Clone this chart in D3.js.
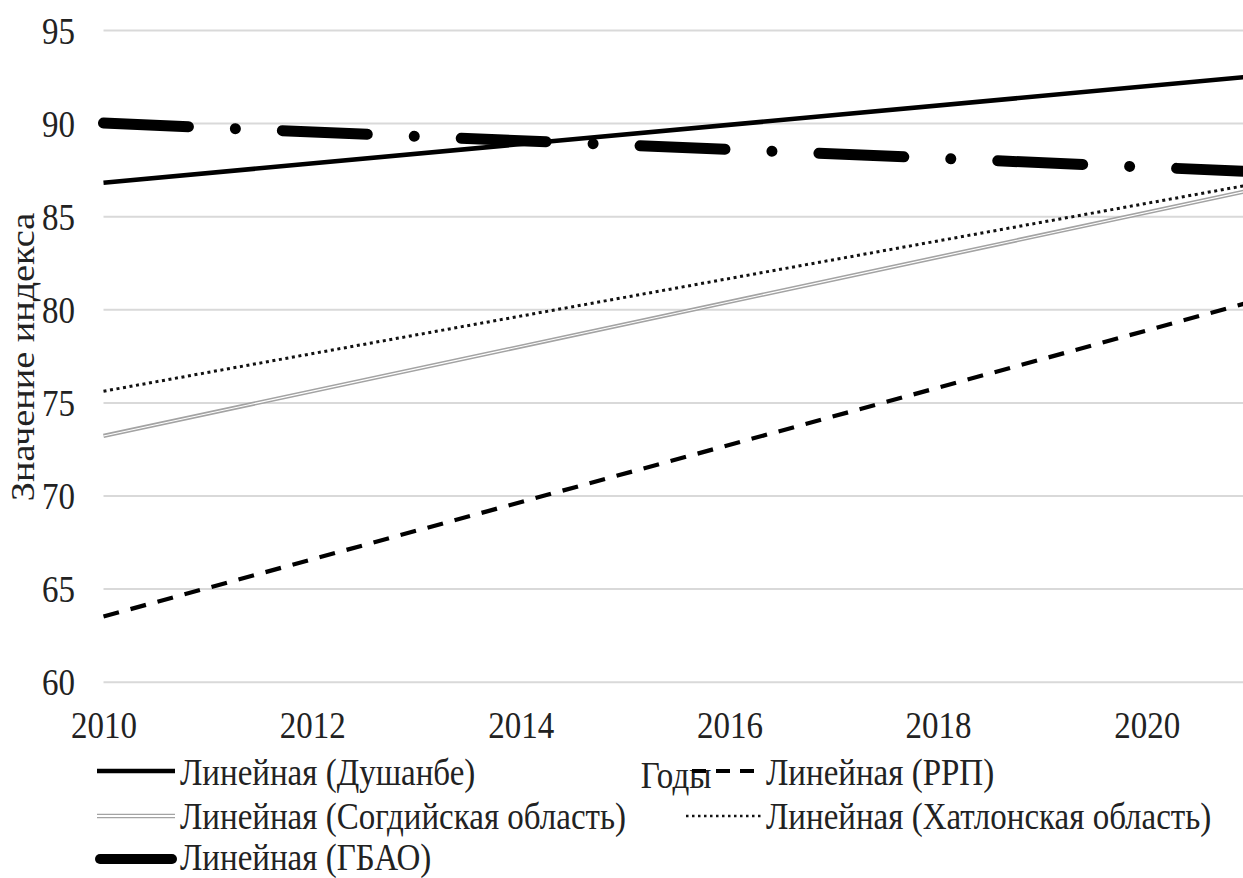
<!DOCTYPE html>
<html>
<head>
<meta charset="utf-8">
<script src="https://cdn.jsdelivr.net/npm/d3@7"></script>
<style>
  html, body { margin: 0; padding: 0; background: #fff; overflow: hidden; }
  svg { display: block; }
  text { font-family: "Liberation Serif", "Times New Roman", serif; fill: #222; }
</style>
</head>
<body>
<svg id="chart" width="1243" height="878"></svg>
<script>
// ---- data (trend lines: values at the start and end year) ----
const years = [2010, 2021];
const dushanbe = [86.8, 92.5];
const sogd     = [73.2, 86.4];
const gbao     = [90.0, 87.4];
const rrp      = [63.5, 80.4];
const khatlon  = [75.6, 86.7];
const seriesNames = [
  "Линейная (Душанбе)",
  "Линейная (РРП)",
  "Линейная (Согдийская область)",
  "Линейная (Хатлонская область)",
  "Линейная (ГБАО)"
];
const yTicks = [60, 65, 70, 75, 80, 85, 90, 95];
const xTicks = [2010, 2012, 2014, 2016, 2018, 2020];
const yTitle = "Значение индекса";
const xTitle = "Годы";

// ---- layout ----
const svg = d3.select("#chart");
const x = d3.scaleLinear().domain([2010, 2021]).range([103.5, 1251]);
const y = d3.scaleLinear().domain([60, 95]).range([681.7, 30]);
const SY = 1.16; // vertical stretch of the text in the reference
const FS = 33;

// gridlines + y labels
const yAxis = svg.append("g")
  .attr("transform", `translate(${x(2010)},0)`)
  .call(d3.axisLeft(y).tickValues(yTicks).tickSize(-(x(2021) - x(2010))).tickFormat(d3.format("d")));
yAxis.select(".domain").remove();
yAxis.selectAll(".tick line").attr("stroke", "#d9d9d9").attr("stroke-width", 2);
yAxis.selectAll(".tick text")
  .attr("x", null).attr("dy", null)
  .attr("text-anchor", "end")
  .attr("font-size", FS)
  .attr("transform", `translate(-28.5,13) scale(1,${SY})`);

// x labels
const xAxis = svg.append("g")
  .attr("transform", `translate(0,${y(60)})`)
  .call(d3.axisBottom(x).tickValues(xTicks).tickSize(0).tickFormat(d3.format("d")));
xAxis.select(".domain").remove();
xAxis.selectAll(".tick text")
  .attr("y", null).attr("dy", null)
  .attr("text-anchor", "middle")
  .attr("font-size", FS)
  .attr("transform", `translate(0,56.5) scale(1,${SY})`);

// y axis title
svg.append("text")
  .attr("text-anchor", "middle").attr("font-size", FS)
  .attr("transform", `translate(34,357) scale(1,${SY}) rotate(-90)`)
  .text(yTitle);

// ---- series ----
const line = d3.line().x((d, i) => x(years[i])).y(d => y(d));

const styles = {
  dushanbe: { stroke: "#000", width: 4.6, dash: null, cap: "butt" },
  rrp:      { stroke: "#000", width: 4.2, dash: "16,12", cap: "butt" },
  khatlon:  { stroke: "#111", width: 3, dash: "3,3.6", cap: "butt" },
  gbao:     { stroke: "#000", width: 11, dash: "85,47,0.01,47", cap: "round" }
};
const gLines = svg.append("g");
gLines.append("path").attr("d", line(sogd)).attr("fill", "none")
  .attr("stroke", "#a3a3a3").attr("stroke-width", 4.2);
gLines.append("path").attr("d", line(sogd)).attr("fill", "none")
  .attr("stroke", "#ffffff").attr("stroke-width", 1.1);
gLines.append("path").attr("d", line(khatlon)).attr("fill", "none")
  .attr("stroke", styles.khatlon.stroke).attr("stroke-width", styles.khatlon.width)
  .attr("stroke-dasharray", styles.khatlon.dash);
gLines.append("path").attr("d", line(rrp)).attr("fill", "none")
  .attr("stroke", styles.rrp.stroke).attr("stroke-width", styles.rrp.width)
  .attr("stroke-dasharray", styles.rrp.dash);
gLines.append("path").attr("d", line(gbao)).attr("fill", "none")
  .attr("stroke", styles.gbao.stroke).attr("stroke-width", styles.gbao.width)
  .attr("stroke-dasharray", styles.gbao.dash).attr("stroke-linecap", "round");
gLines.append("path").attr("d", line(dushanbe)).attr("fill", "none")
  .attr("stroke", styles.dushanbe.stroke).attr("stroke-width", styles.dushanbe.width);

// x title (drawn under the legend like in the reference)
svg.append("text")
  .attr("text-anchor", "middle").attr("font-size", FS)
  .attr("transform", `translate(676,788) scale(1,${SY})`)
  .text(xTitle);

// ---- legend ----
const legendItems = [
  { name: seriesNames[0], key: "dushanbe", sx: 97,  tx: 180, row: 0 },
  { name: seriesNames[1], key: "rrp",      sx: 688, tx: 766, row: 0 },
  { name: seriesNames[2], key: "sogd",     sx: 97,  tx: 180, row: 1 },
  { name: seriesNames[3], key: "khatlon",  sx: 686, tx: 766, row: 1 },
  { name: seriesNames[4], key: "gbao",     sx: 100, tx: 180, row: 2 }
];
const rowBase = [785, 829, 870];
const rowMid = [771, 816, 859];
const lg = svg.append("g");
legendItems.forEach(it => {
  const ym = rowMid[it.row];
  const x0 = it.sx, x1 = it.tx - 5;
  const dPath = `M${x0},${ym}L${x1},${ym}`;
  if (it.key === "sogd") {
    lg.append("path").attr("d", `M${x0},${ym - 1.6}L${x1},${ym - 1.6}`).attr("stroke", "#a3a3a3").attr("stroke-width", 1.3);
    lg.append("path").attr("d", `M${x0},${ym + 1.6}L${x1},${ym + 1.6}`).attr("stroke", "#a3a3a3").attr("stroke-width", 1.3);
  } else {
    const s = styles[it.key];
    const p = lg.append("path").attr("d", it.key === "gbao" ? `M${x0},${ym}L${x1 - 3},${ym}` : dPath)
      .attr("stroke", s.stroke).attr("stroke-width", it.key === "gbao" ? 10 : s.width)
      .attr("stroke-linecap", s.cap);
    if (it.key === "rrp") p.attr("stroke-dasharray", "14,10").attr("stroke-dashoffset", -4);
    if (it.key === "khatlon") p.attr("stroke-dasharray", "2.5,3.5").attr("stroke-width", 2.5);
  }
  lg.append("text")
    .attr("font-size", FS)
    .attr("transform", `translate(${it.tx},${rowBase[it.row]}) scale(1,${SY})`)
    .text(it.name);
});
</script>
</body>
</html>
